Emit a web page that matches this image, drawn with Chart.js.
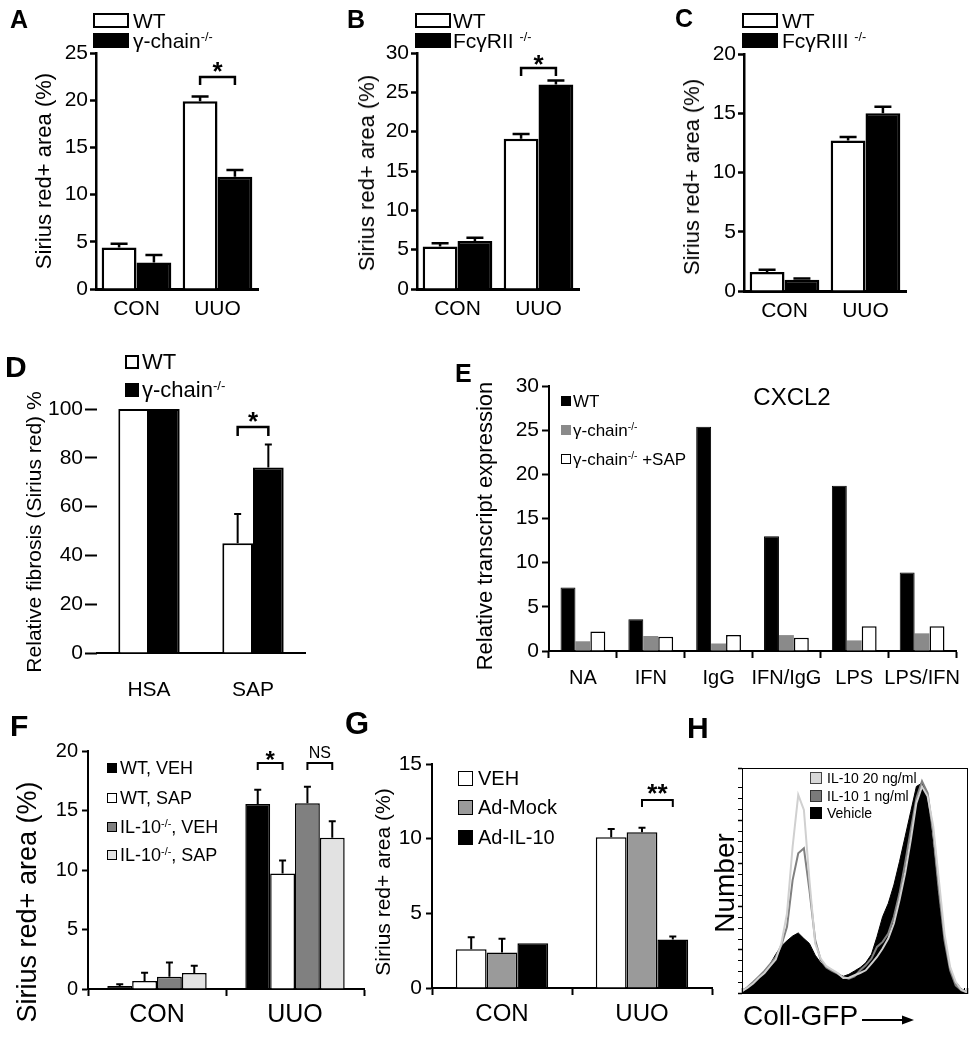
<!DOCTYPE html>
<html><head><meta charset="utf-8">
<script src="https://cdn.jsdelivr.net/npm/chart.js@4.4.1/dist/chart.umd.min.js"></script>
<style>
html,body{margin:0;padding:0;background:#fff;}
body{width:980px;height:1050px;position:relative;overflow:hidden;font-family:'Liberation Sans',Arial,Helvetica,sans-serif;color:#000;}
canvas{position:absolute;}
.t{position:absolute;white-space:nowrap;line-height:1;transform:translate(0,-50%);}
.c{transform:translate(-50%,-50%);}
.rot{transform:translate(-50%,-50%) rotate(-90deg);}
.b{font-weight:bold;}
.sw{position:absolute;box-sizing:border-box;}
sup{font-size:0.6em;vertical-align:baseline;position:relative;top:-0.55em;}
</style></head><body>
<script>
// ---------------- DATA ----------------
const catUUO = ['CON', 'UUO'];
// Panel A
const legA = ['WT', 'γ-chain-/-'];
const aWT = [4.4, 19.9], aWTerr = [0.4, 0.5];
const aKO = [2.8, 11.9], aKOerr = [0.8, 0.7];
// Panel B
const legB = ['WT', 'FcγRII -/-'];
const bWT = [5.4, 19.1], bWTerr = [0.4, 0.6];
const bKO = [6.1, 26.0], bKOerr = [0.4, 0.5];
// Panel C
const legC = ['WT', 'FcγRIII -/-'];
const cWT = [1.6, 12.7], cWTerr = [0.2, 0.3];
const cKO = [0.95, 15.0], cKOerr = [0.1, 0.55];
// Panel D
const dCats = ['HSA', 'SAP'];
const legD = ['WT', 'γ-chain-/-'];
const dWT = [100, 45], dWTerr = [null, 12];
const dKO = [100, 76], dKOerr = [null, 9.5];
// Panel E
const eCats = ['NA', 'IFN', 'IgG', 'IFN/IgG', 'LPS', 'LPS/IFN'];
const legE = ['WT', 'γ-chain-/-', 'γ-chain-/- +SAP'];
const eWT = [7.2, 3.6, 25.4, 13.0, 18.7, 8.9];
const eKO = [1.1, 1.7, 0.85, 1.8, 1.2, 2.0];
const eSAP = [2.2, 1.6, 1.8, 1.5, 2.8, 2.8];
// Panel F
const legF = ['WT, VEH', 'WT, SAP', 'IL-10-/-, VEH', 'IL-10-/-, SAP'];
const fWTveh = [0.25, 15.55], fWTvehErr = [0.15, 1.2];
const fWTsap = [0.67, 9.7], fWTsapErr = [0.7, 1.1];
const fILveh = [1.03, 15.6], fILvehErr = [1.2, 1.4];
const fILsap = [1.35, 12.7], fILsapErr = [0.6, 1.4];
// Panel G
const legG = ['VEH', 'Ad-Mock', 'Ad-IL-10'];
const gVEH = [2.6, 10.1], gVEHerr = [0.8, 0.55];
const gMock = [2.38, 10.43], gMockErr = [0.92, 0.3];
const gIL = [3.0, 3.25], gILerr = [null, 0.2];
// Panel H (flow histogram, Coll-GFP intensity vs number, % of max)
const legH = ['IL-10 20 ng/ml', 'IL-10 1 ng/ml', 'Vehicle'];
const hGFP = [1, 1.26, 1.58, 2, 2.51, 3.16, 3.98, 5.01, 6.31, 7.94, 10, 12.6, 15.8, 20, 25.1, 31.6, 39.8, 50.1, 63.1, 79.4, 100, 126, 158, 200, 251, 316, 398, 501, 631, 794, 1000, 1259, 1585, 1995, 2512, 3162, 3981, 5012, 6310, 7943, 10000];
const hVeh = [0.8, 2.4, 4.8, 7.1, 9.5, 12.8, 17.2, 20.8, 23.2, 25.3, 26.7, 24.2, 22, 16.8, 13.4, 11.3, 9.8, 8.6, 7.4, 8.3, 9.8, 11.3, 13.4, 17.2, 25, 33.9, 39.8, 48, 58.4, 69.5, 80.7, 91.8, 93.3, 87.4, 65, 41.3, 22, 10.1, 4.9, 1.9, 0.4];
const hIL1 = [0.8, 2.7, 4.9, 7.4, 9.8, 12.8, 16, 21.2, 29.4, 50.2, 62.1, 64.3, 45.8, 23.5, 14.6, 11.3, 9.8, 8.6, 7.1, 6.4, 7.4, 10.1, 12.3, 15.3, 20.5, 22.7, 26.4, 33.9, 44.3, 57.7, 72.5, 86.6, 94.1, 88.9, 71, 45.8, 23.5, 10.1, 3.4, 1.2, 0.3];
const hIL20 = [0.8, 2.4, 4.2, 6.8, 8.9, 11.9, 14.9, 22, 35.4, 65, 88.1, 81.4, 50.2, 22, 15.3, 11.9, 10.4, 8.9, 6.7, 6.8, 7.9, 8.9, 10.1, 13.1, 16, 19.8, 24.2, 30.9, 41.3, 53.2, 68, 84.4, 91.8, 87.4, 74, 50.2, 26.4, 11.6, 4.9, 1.5, 0.3];

// ---------------- HELPERS ----------------
const FONT = "'Liberation Sans', Arial, Helvetica, sans-serif";
Chart.defaults.font.family = FONT;
Chart.defaults.color = '#000';

const errorBars = {
  id: 'errorBars',
  afterDatasetsDraw(chart, args, opts) {
    const ctx = chart.ctx, ys = chart.scales.y;
    chart.data.datasets.forEach((ds, i) => {
      if (!ds.errors) return;
      const meta = chart.getDatasetMeta(i);
      meta.data.forEach((bar, j) => {
        const e = ds.errors[j];
        if (e == null) return;
        const top = ys.getPixelForValue(ds.data[j] + e);
        ctx.save();
        ctx.strokeStyle = '#000'; ctx.lineWidth = opts.width || 2;
        ctx.beginPath();
        ctx.moveTo(bar.x, bar.y); ctx.lineTo(bar.x, top);
        ctx.moveTo(bar.x - opts.cap / 2, top); ctx.lineTo(bar.x + opts.cap / 2, top);
        ctx.stroke(); ctx.restore();
      });
    });
  }
};
const brackets = {
  id: 'brackets',
  afterDatasetsDraw(chart, args, opts) {
    const ctx = chart.ctx, ys = chart.scales.y;
    (opts.items || []).forEach(it => {
      const x1 = chart.getDatasetMeta(it.a[0]).data[it.a[1]].x;
      const x2 = chart.getDatasetMeta(it.b[0]).data[it.b[1]].x;
      const y = Math.round(ys.getPixelForValue(it.y));
      ctx.save();
      ctx.strokeStyle = '#000'; ctx.lineWidth = opts.width || 2;
      ctx.beginPath();
      ctx.moveTo(x1, y + it.drop); ctx.lineTo(x1, y); ctx.lineTo(x2, y); ctx.lineTo(x2, y + it.drop);
      ctx.stroke();
      ctx.fillStyle = '#000'; ctx.font = it.font; ctx.textAlign = 'center'; ctx.textBaseline = 'alphabetic';
      ctx.fillText(it.text, (x1 + x2) / 2, y + it.dy);
      ctx.restore();
    });
  }
};
const frame = {
  id: 'frame',
  afterDraw(chart) {
    const a = chart.chartArea, ctx = chart.ctx;
    ctx.save(); ctx.strokeStyle = '#000'; ctx.lineWidth = 1;
    ctx.strokeRect(Math.round(a.left) + 0.5, Math.round(a.top) + 0.5, Math.round(a.right - a.left), Math.round(a.bottom - a.top));
    ctx.restore();
  }
};

function place(box, area, cfg) {
  const cv = document.createElement('canvas');
  cv.width = box.w; cv.height = box.h;
  cv.style.left = box.x + 'px'; cv.style.top = box.y + 'px';
  cv.style.width = box.w + 'px'; cv.style.height = box.h + 'px';
  document.body.appendChild(cv);
  const o = cfg.options;
  o.responsive = false; o.animation = false; o.devicePixelRatio = 1;
  o.layout = {padding: {left: 0, top: area.t - box.y, right: box.x + box.w - area.r, bottom: 0}};
  o.plugins = Object.assign({legend: {display: false}, tooltip: {enabled: false}}, o.plugins || {});
  o.scales.x.afterFit = s => { s.height = box.y + box.h - area.b; };
  o.scales.y.afterFit = s => { s.width = area.l - box.x; };
  return new Chart(cv, cfg);
}
function fmt(s) { return s.replace('-/-', '<sup>-/-</sup>'); }
function text(x, y, html, size, cls, extra) {
  const d = document.createElement('div');
  d.className = 't ' + (cls || '');
  d.style.left = x + 'px'; d.style.top = y + 'px'; d.style.fontSize = size + 'px';
  if (extra) Object.assign(d.style, extra);
  d.innerHTML = html;
  document.body.appendChild(d);
  return d;
}
function swatch(x, y, w, h, bg, border) {
  const d = document.createElement('div');
  d.className = 'sw';
  d.style.left = x + 'px'; d.style.top = y + 'px'; d.style.width = w + 'px'; d.style.height = h + 'px';
  d.style.background = bg; d.style.border = border || 'none';
  document.body.appendChild(d);
}
function yAxis(max, step, size, tl, pad, bw, hideBorder) {
  return {min: 0, max: max, ticks: {stepSize: step, font: {size: size}, padding: pad},
    grid: {drawOnChartArea: false, tickLength: tl, color: '#000', tickWidth: bw},
    border: {display: !hideBorder, color: '#000', width: bw}};
}
const flatTicks = (size, pad) => ({font: {size: size}, padding: pad, autoSkip: false, maxRotation: 0, minRotation: 0});

// ---------------- PANEL A ----------------
place({x: 0, y: 0, w: 300, h: 330}, {l: 96, t: 53, r: 258, b: 289}, {
  type: 'bar',
  data: {labels: catUUO, datasets: [
    {label: legA[0], data: aWT, errors: aWTerr, backgroundColor: '#fff', borderColor: '#000', borderWidth: 2.5},
    {label: legA[1], data: aKO, errors: aKOerr, backgroundColor: '#000', borderColor: '#000', borderWidth: 2.5}]},
  options: {
    datasets: {bar: {categoryPercentage: 0.86, barPercentage: 1}},
    scales: {
      x: {grid: {display: false}, border: {color: '#000', width: 3}, ticks: flatTicks(21, 0)},
      y: yAxis(25, 5, 21, 6, 2, 2.5)
    },
    plugins: {errorBars: {cap: 17, width: 2.5},
      brackets: {width: 2.5, items: [{a: [0, 1], b: [1, 1], y: 22.5, drop: 8, text: '*', font: 'bold 26px ' + FONT, dy: 3}]}}
  },
  plugins: [errorBars, brackets]
});
// ---------------- PANEL B ----------------
place({x: 320, y: 0, w: 300, h: 330}, {l: 417, t: 53, r: 579, b: 289}, {
  type: 'bar',
  data: {labels: catUUO, datasets: [
    {label: legB[0], data: bWT, errors: bWTerr, backgroundColor: '#fff', borderColor: '#000', borderWidth: 2.5},
    {label: legB[1], data: bKO, errors: bKOerr, backgroundColor: '#000', borderColor: '#000', borderWidth: 2.5}]},
  options: {
    datasets: {bar: {categoryPercentage: 0.86, barPercentage: 1}},
    scales: {
      x: {grid: {display: false}, border: {color: '#000', width: 3}, ticks: flatTicks(21, 0)},
      y: yAxis(30, 5, 21, 6, 2, 2.5)
    },
    plugins: {errorBars: {cap: 17, width: 2.5},
      brackets: {width: 2.5, items: [{a: [0, 1], b: [1, 1], y: 28.1, drop: 8, text: '*', font: 'bold 26px ' + FONT, dy: 5}]}}
  },
  plugins: [errorBars, brackets]
});
// ---------------- PANEL C ----------------
place({x: 640, y: 0, w: 330, h: 330}, {l: 744, t: 54, r: 906, b: 291}, {
  type: 'bar',
  data: {labels: catUUO, datasets: [
    {label: legC[0], data: cWT, errors: cWTerr, backgroundColor: '#fff', borderColor: '#000', borderWidth: 2.5},
    {label: legC[1], data: cKO, errors: cKOerr, backgroundColor: '#000', borderColor: '#000', borderWidth: 2.5}]},
  options: {
    datasets: {bar: {categoryPercentage: 0.86, barPercentage: 1}},
    scales: {
      x: {grid: {display: false}, border: {color: '#000', width: 3}, ticks: flatTicks(21, 0)},
      y: yAxis(20, 5, 21, 6, 2, 2.5)
    },
    plugins: {errorBars: {cap: 17, width: 2.5}}
  },
  plugins: [errorBars]
});
// ---------------- PANEL D ----------------
place({x: 0, y: 340, w: 320, h: 370}, {l: 97, t: 409, r: 305, b: 653}, {
  type: 'bar',
  data: {labels: dCats, datasets: [
    {label: legD[0], data: dWT, errors: dWTerr, backgroundColor: '#fff', borderColor: '#000', borderWidth: 2},
    {label: legD[1], data: dKO, errors: dKOerr, backgroundColor: '#000', borderColor: '#000', borderWidth: 2}]},
  options: {
    datasets: {bar: {categoryPercentage: 0.59, barPercentage: 1}},
    scales: {
      x: {grid: {display: false}, border: {color: '#000', width: 2}, ticks: flatTicks(21, 17)},
      y: yAxis(100, 20, 21, 12, 2, 2, true)
    },
    plugins: {errorBars: {cap: 7, width: 2},
      brackets: {width: 2.5, items: [{a: [0, 1], b: [1, 1], y: 92.6, drop: 9, text: '*', font: 'bold 26px ' + FONT, dy: 3}]}}
  },
  plugins: [errorBars, brackets]
});
// ---------------- PANEL E ----------------
place({x: 430, y: 340, w: 550, h: 360}, {l: 549, t: 386, r: 956, b: 651}, {
  type: 'bar',
  data: {labels: eCats, datasets: [
    {label: legE[0], data: eWT, backgroundColor: '#000', borderColor: '#000', borderWidth: 1},
    {label: legE[1], data: eKO, backgroundColor: '#8a8a8a', borderWidth: 0},
    {label: legE[2], data: eSAP, backgroundColor: '#fff', borderColor: '#000', borderWidth: 1.5}]},
  options: {
    datasets: {bar: {categoryPercentage: 0.66, barPercentage: 1}},
    scales: {
      x: {grid: {offset: true, drawOnChartArea: false, tickLength: 7, color: '#000', tickWidth: 2},
          border: {color: '#000', width: 2}, ticks: flatTicks(20, 8)},
      y: yAxis(30, 5, 21, 7, 3, 2)
    }
  }
});
// ---------------- PANEL F ----------------
place({x: 0, y: 700, w: 372, h: 350}, {l: 88, t: 751, r: 364, b: 989}, {
  type: 'bar',
  data: {labels: catUUO, datasets: [
    {label: legF[0], data: fWTveh, errors: fWTvehErr, backgroundColor: '#000', borderColor: '#000', borderWidth: 1.5},
    {label: legF[1], data: fWTsap, errors: fWTsapErr, backgroundColor: '#fff', borderColor: '#000', borderWidth: 1.5},
    {label: legF[2], data: fILveh, errors: fILvehErr, backgroundColor: '#808080', borderColor: '#000', borderWidth: 1.5},
    {label: legF[3], data: fILsap, errors: fILsapErr, backgroundColor: '#e2e2e2', borderColor: '#000', borderWidth: 1.5}]},
  options: {
    datasets: {bar: {categoryPercentage: 0.72, barPercentage: 1}},
    scales: {
      x: {grid: {offset: true, drawOnChartArea: false, tickLength: 7, color: '#000', tickWidth: 2},
          border: {color: '#000', width: 2}, ticks: flatTicks(25, 4)},
      y: yAxis(20, 5, 20, 6, 4, 2)
    },
    plugins: {errorBars: {cap: 7, width: 2},
      brackets: {width: 2, items: [
        {a: [0, 1], b: [1, 1], y: 19.0, drop: 7, text: '*', font: 'bold 24px ' + FONT, dy: 5},
        {a: [2, 1], b: [3, 1], y: 19.0, drop: 7, text: 'NS', font: '16px ' + FONT, dy: -5}]}}
  },
  plugins: [errorBars, brackets]
});
// ---------------- PANEL G ----------------
place({x: 372, y: 700, w: 350, h: 350}, {l: 432, t: 764, r: 712, b: 988}, {
  type: 'bar',
  data: {labels: catUUO, datasets: [
    {label: legG[0], data: gVEH, errors: gVEHerr, backgroundColor: '#fff', borderColor: '#000', borderWidth: 1.5},
    {label: legG[1], data: gMock, errors: gMockErr, backgroundColor: '#9a9a9a', borderColor: '#000', borderWidth: 1.5},
    {label: legG[2], data: gIL, errors: gILerr, backgroundColor: '#000', borderColor: '#000', borderWidth: 1.5}]},
  options: {
    datasets: {bar: {categoryPercentage: 0.66, barPercentage: 1}},
    scales: {
      x: {grid: {offset: true, drawOnChartArea: false, tickLength: 7, color: '#000', tickWidth: 2},
          border: {color: '#000', width: 2}, ticks: flatTicks(24, 5)},
      y: yAxis(15, 5, 21, 6, 4, 2)
    },
    plugins: {errorBars: {cap: 7, width: 2},
      brackets: {width: 2, items: [{a: [1, 1], b: [2, 1], y: 12.6, drop: 7, text: '**', font: 'bold 26px ' + FONT, dy: 2}]}}
  },
  plugins: [errorBars, brackets]
});
// ---------------- PANEL H ----------------
const toXY = arr => arr.map((v, i) => ({x: hGFP[i], y: v}));
place({x: 700, y: 750, w: 275, h: 255}, {l: 742, t: 768, r: 967, b: 993}, {
  type: 'line',
  data: {datasets: [
    {label: legH[0], data: toXY(hIL20), borderColor: '#d0d0d0', borderWidth: 2, pointRadius: 0, fill: false, order: 1},
    {label: legH[1], data: toXY(hIL1), borderColor: '#808080', borderWidth: 2, pointRadius: 0, fill: false, order: 2},
    {label: legH[2], data: toXY(hVeh), borderColor: '#000', backgroundColor: '#000', borderWidth: 1, pointRadius: 0, fill: 'origin', order: 3}]},
  options: {
    scales: {
      x: {type: 'logarithmic', min: 1, max: 10000, ticks: {display: false},
          grid: {drawOnChartArea: false, tickLength: -5, color: '#000', tickWidth: c => (c.tick && c.tick.major) ? 1.5 : 1},
          border: {color: '#000', width: 1}},
      y: {min: 0, max: 100, ticks: {display: false, stepSize: 4.8},
          grid: {drawOnChartArea: false, tickLength: 4, color: '#000', tickWidth: c => (c.index % 4 === 0) ? 1.5 : 1},
          border: {color: '#000', width: 1}}
    }
  },
  plugins: [frame]
});

// ---------------- TEXT: panel letters ----------------
text(10, 19, 'A', 25, 'b');
text(347, 19, 'B', 25, 'b');
text(675, 18, 'C', 25, 'b');
text(5, 367, 'D', 30, 'b');
text(455, 373, 'E', 25, 'b');
text(10, 726, 'F', 30, 'b');
text(345, 723, 'G', 31, 'b');
text(687, 728, 'H', 30, 'b');

// ---------------- TEXT: y titles ----------------
const yTitle = 'Sirius red+ area (%)';
text(44, 171, yTitle, 22, 'rot');
text(367, 173, yTitle, 22, 'rot');
text(692, 177, yTitle, 22, 'rot');
text(33, 532, 'Relative fibrosis (Sirius red) %', 21, 'rot');
text(485, 526, 'Relative transcript expression', 22, 'rot');
text(27, 902, yTitle, 27, 'rot');
text(382, 882, yTitle, 21, 'rot');
text(725, 883, 'Number', 28, 'rot');
text(743, 1016, 'Coll-GFP', 28, '');
(function () {
  const s = document.createElementNS('http://www.w3.org/2000/svg', 'svg');
  s.setAttribute('width', '54'); s.setAttribute('height', '12');
  s.style.position = 'absolute'; s.style.left = '862px'; s.style.top = '1014px';
  s.innerHTML = '<line x1="0" y1="6" x2="44" y2="6" stroke="#000" stroke-width="2"/><polygon points="40,1.5 52,6 40,10.5" fill="#000"/>';
  document.body.appendChild(s);
})();
text(792, 397, 'CXCL2', 24, 'c');

// ---------------- LEGENDS ----------------
// A, B, C
[[93, 133, legA], [415, 453, legB], [742, 782, legC]].forEach(([bx, tx, leg]) => {
  swatch(bx, 13, 36, 15, '#fff', '2.5px solid #000');
  swatch(bx, 33, 36, 15, '#000');
  text(tx, 20, fmt(leg[0]), 21);
  text(tx, 40, fmt(leg[1]), 21);
});
// D
swatch(125, 355, 14, 14, '#fff', '2px solid #000');
swatch(125, 383, 14, 14, '#000');
text(142, 362, fmt(legD[0]), 22);
text(142, 390, fmt(legD[1]), 22);
// E
const eCol = [['#000', 'none'], ['#8a8a8a', 'none'], ['#fff', '1.5px solid #000']];
[401, 430, 459].forEach((yc, i) => {
  swatch(561, yc - 5, 10, 10, eCol[i][0], eCol[i][1]);
  text(573, yc, fmt(legE[i]), 17);
});
// F
const fCol = [['#000', '1px solid #000'], ['#fff', '1.5px solid #000'], ['#808080', '1.5px solid #000'], ['#e2e2e2', '1.5px solid #000']];
[768, 798, 827, 855].forEach((yc, i) => {
  swatch(107, yc - 5, 10, 10, fCol[i][0], fCol[i][1]);
  text(120, yc, fmt(legF[i]), 18);
});
// G
const gCol = [['#fff', '1.5px solid #000'], ['#9a9a9a', '1.5px solid #000'], ['#000', '1.5px solid #000']];
[778, 807, 837].forEach((yc, i) => {
  swatch(458, yc - 7, 15, 15, gCol[i][0], gCol[i][1]);
  text(478, yc, legG[i], 20);
});
// H
const hCol = [['#d8d8d8', '1px solid #444'], ['#7a7a7a', '1px solid #333'], ['#000', '1px solid #000']];
[778, 796, 813].forEach((yc, i) => {
  swatch(810, yc - 6, 12, 12, hCol[i][0], hCol[i][1]);
  text(827, yc, legH[i], 14);
});
</script>
</body></html>
